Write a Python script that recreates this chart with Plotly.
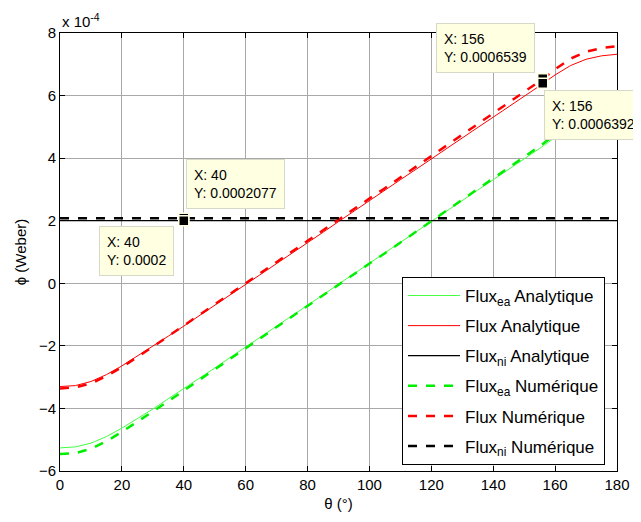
import plotly.graph_objects as go

# theta in degrees
theta = [0, 5, 10, 15, 20, 25, 30, 35, 40, 45, 50, 55, 60, 65, 70, 75, 80, 85, 90,
         95, 100, 105, 110, 115, 120, 125, 130, 135, 140, 145, 150, 155, 160, 165, 170, 175, 180]

# values in units of 1e-4 Weber
flux_num = [-3.36, -3.33, -3.20, -2.97, -2.68, -2.36, -2.03, -1.69, -1.35, -1.01, -0.68, -0.34, 0.00,
            0.34, 0.68, 1.01, 1.35, 1.69, 2.03, 2.37, 2.71, 3.04, 3.38, 3.72, 4.06, 4.40, 4.74,
            5.08, 5.42, 5.76, 6.10, 6.46, 6.84, 7.18, 7.40, 7.52, 7.58]
flux_ana = [-3.30, -3.27, -3.14, -2.92, -2.64, -2.33, -2.02, -1.69, -1.37, -1.04, -0.71, -0.37, -0.04,
            0.29, 0.63, 0.96, 1.30, 1.63, 1.97, 2.31, 2.64, 2.97, 3.31, 3.64, 3.98, 4.31, 4.64,
            4.98, 5.31, 5.64, 5.97, 6.31, 6.66, 6.96, 7.16, 7.27, 7.32]
fluxea_num = [-5.46, -5.43, -5.29, -5.05, -4.75, -4.43, -4.10, -3.77, -3.43, -3.09, -2.76, -2.42, -2.08,
              -1.74, -1.40, -1.07, -0.73, -0.39, -0.05, 0.29, 0.63, 0.96, 1.30, 1.64, 1.98, 2.32, 2.66,
              3.00, 3.34, 3.68, 4.02, 4.38, 4.76, 5.10, 5.32, 5.44, 5.50]
fluxea_ana = [-5.26, -5.23, -5.11, -4.90, -4.63, -4.33, -4.02, -3.69, -3.37, -3.04, -2.71, -2.37, -2.04,
              -1.71, -1.37, -1.04, -0.70, -0.37, -0.03, 0.31, 0.64, 0.97, 1.31, 1.64, 1.98, 2.31, 2.64,
              2.98, 3.31, 3.64, 3.97, 4.31, 4.66, 4.96, 5.16, 5.27, 5.32]
fluxni_ana = [2.0] * len(theta)
fluxni_num = [2.077] * len(theta)

# data tips
tip_x = [40, 40, 156, 156]
tip_y = [2.077, 2.0, 6.539, 6.392]
tip_text = ["X: 40<br>Y: 0.0002077", "X: 40<br>Y: 0.0002",
            "X: 156<br>Y: 0.0006539", "X: 156<br>Y: 0.0006392"]

fig = go.Figure()
def add(y, name, color, dash, width):
    fig.add_trace(go.Scatter(x=theta, y=y, mode="lines", name=name, legendgroup=name,
                             line=dict(color=color, dash=dash, width=width)))

add(fluxea_ana, "Flux<sub>ea</sub> Analytique", "#44ff44", "solid", 1)
add(flux_ana, "Flux Analytique", "#ff0000", "solid", 1)
add(fluxni_ana, "Flux<sub>ni</sub> Analytique", "#000000", "solid", 1.2)
add(fluxea_num, "Flux<sub>ea</sub> Numérique", "#00ee00", "dash", 2.5)
add(flux_num, "Flux Numérique", "#ff0000", "dash", 2.5)
add(fluxni_num, "Flux<sub>ni</sub> Numérique", "#000000", "dash", 2.5)

fig.add_trace(go.Scatter(x=tip_x, y=tip_y, mode="markers", showlegend=False,
                         marker=dict(symbol="square", size=10, color="black",
                                     line=dict(color="#ffffe1", width=1.5))))

# annotation offsets (pixels)
offs = [(52, -34), (-47, 30), (-57, -31), (51, 32)]
for x, y, t, (ax, ay) in zip(tip_x, tip_y, tip_text, offs):
    fig.add_annotation(x=x, y=y, text=t, showarrow=True, arrowcolor="rgba(0,0,0,0)",
                       ax=ax, ay=ay, align="left", bgcolor="#ffffe1", bordercolor="#d8d8c8",
                       borderwidth=1, borderpad=7, font=dict(size=14, color="black"))

fig.add_annotation(x=0, y=1, xref="paper", yref="paper", xanchor="left", yanchor="bottom",
                   text="x 10<sup>-4</sup>", showarrow=False, font=dict(size=15, color="black"),
                   yshift=1)

axis_common = dict(showline=True, linecolor="black", linewidth=1, mirror="allticks",
                   ticks="inside", ticklen=5, tickcolor="black", showgrid=True,
                   gridcolor="#a8a8a8", gridwidth=1, zeroline=False,
                   tickfont=dict(size=15, color="black"))
fig.update_xaxes(range=[0, 180], dtick=20, title=dict(text="θ (°)", font=dict(size=15, color="black"), standoff=6),
                 **axis_common)
fig.update_yaxes(range=[-6, 8], dtick=2, title=dict(text="ϕ (Weber)", font=dict(size=15, color="black"), standoff=8),
                 **axis_common)

fig.update_layout(width=633, height=514, margin=dict(l=52, r=24, t=25, b=51),
                  paper_bgcolor="white", plot_bgcolor="white",
                  font=dict(family="Liberation Sans, Arial, sans-serif", size=15, color="black"),
                  legend=dict(x=0.614, y=0.443, xanchor="left", yanchor="top",
                              bgcolor="white", bordercolor="black", borderwidth=1,
                              itemwidth=52, tracegroupgap=5, font=dict(size=17, color="black")))

fig.write_html("out.html")
